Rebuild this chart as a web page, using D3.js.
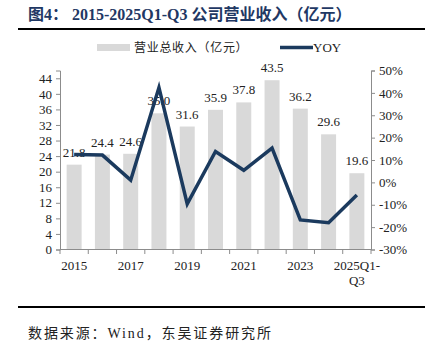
<!DOCTYPE html>
<html>
<head>
<meta charset="utf-8">
<script src="https://cdn.jsdelivr.net/npm/d3@7"></script>
<style>
  body { margin: 0; background: #fff; }
  text { font-family: "Liberation Serif", "Noto Sans CJK SC", serif; }
</style>
</head>
<body>
<div id="chart"></div>
<script>
// 数据
var years = ["2015", "2016", "2017", "2018", "2019", "2020", "2021", "2022", "2023", "2024", "2025Q1-Q3"];
var revenue = [21.8, 24.4, 24.6, 35.0, 31.6, 35.9, 37.8, 43.5, 36.2, 29.6, 19.6];
var yoy = [12.5, 12.2, 1.0, 42.4, -9.6, 13.8, 5.4, 15.3, -16.8, -18.0, -5.6];
var leftTicks = [0, 4, 8, 12, 16, 20, 24, 28, 32, 36, 40, 44];
var rightTicks = [-30, -20, -10, 0, 10, 20, 30, 40, 50];

var W = 425, H = 353;
var navy = "#1b3a5e", barColor = "#d9d9d9", axisColor = "#8c8c8c";

var svg = d3.select("#chart").append("svg")
    .attr("width", W)
    .attr("height", H);

svg.append("rect").attr("width", W).attr("height", H).attr("fill", "#fff");

//**********************标题**********************
svg.append("text")
    .attr("x", 28).attr("y", 20)
    .attr("font-size", 16).attr("font-weight", "bold")
    .attr("fill", "#1f3864")
    .text("图4： 2015-2025Q1-Q3 公司营业收入（亿元）");

svg.append("line")
    .attr("x1", 18).attr("x2", W).attr("y1", 29).attr("y2", 29)
    .attr("stroke", "#000").attr("stroke-width", 2);

//**********************比例尺**********************
var x = d3.scaleBand().domain(years).range([60, 371])
    .paddingInner(0.47).paddingOuter(0.235);
var step = x.step();
var yL = d3.scaleLinear().domain([0, 46]).range([249.5, 70.5]);
var yR = d3.scaleLinear().domain([-30, 50]).range([249.5, 70.5]);

//**********************柱子**********************
svg.append("g").selectAll("rect")
    .data(revenue)
    .enter()
    .append("rect")
    .attr("x", (d, i) => x(years[i]))
    .attr("y", d => yL(d))
    .attr("width", x.bandwidth())
    .attr("height", d => yL(0) - yL(d))
    .attr("fill", barColor);

// 数据标签
svg.append("g").selectAll("text")
    .data(revenue)
    .enter()
    .append("text")
    .attr("x", (d, i) => x(years[i]) + x.bandwidth() / 2)
    .attr("y", d => yL(d) - 8)
    .attr("text-anchor", "middle")
    .attr("font-size", 13)
    .attr("fill", "#222")
    .text(d => d.toFixed(1));

//**********************坐标轴**********************
var axisL = svg.append("g").attr("transform", "translate(60,0)")
    .call(d3.axisLeft(yL).tickValues(leftTicks).tickSize(4).tickPadding(4));
var axisR = svg.append("g").attr("transform", "translate(371,0)")
    .call(d3.axisRight(yR).tickValues(rightTicks).tickSize(4).tickPadding(4)
        .tickFormat(d => d + "%"));

[axisL, axisR].forEach(function (g) {
    g.select(".domain").attr("stroke", axisColor);
    g.selectAll(".tick line").attr("stroke", axisColor);
    g.selectAll(".tick text")
        .attr("font-family", "Liberation Serif, serif")
        .attr("font-size", 13).attr("fill", "#222");
});

// x轴
svg.append("line")
    .attr("x1", 60).attr("x2", 371).attr("y1", 249.5).attr("y2", 249.5)
    .attr("stroke", axisColor);

svg.append("g").selectAll("line")
    .data(d3.range(years.length + 1))
    .enter()
    .append("line")
    .attr("x1", i => 60 + i * step).attr("x2", i => 60 + i * step)
    .attr("y1", 249.5).attr("y2", 254)
    .attr("stroke", axisColor);

var xl = svg.append("g").selectAll("text")
    .data(years.filter((d, i) => i % 2 == 0))
    .enter()
    .append("text")
    .attr("x", d => x(d) + x.bandwidth() / 2)
    .attr("y", 270)
    .attr("text-anchor", "middle")
    .attr("font-size", 13)
    .attr("fill", "#222");

xl.each(function (d) {
    var t = d3.select(this);
    if (d == "2025Q1-Q3") {
        t.append("tspan").attr("x", x(d) + x.bandwidth() / 2).text("2025Q1-");
        t.append("tspan").attr("x", x(d) + x.bandwidth() / 2).attr("dy", 15).text("Q3");
    } else {
        t.text(d);
    }
});

//**********************YOY折线**********************
var line = d3.line()
    .x((d, i) => x(years[i]) + x.bandwidth() / 2)
    .y(d => yR(d));

svg.append("path")
    .datum(yoy)
    .attr("d", line)
    .attr("fill", "none")
    .attr("stroke", navy)
    .attr("stroke-width", 3.5)
    .attr("stroke-linejoin", "miter");

//**********************图例**********************
svg.append("rect")
    .attr("x", 97).attr("y", 44).attr("width", 33).attr("height", 7)
    .attr("fill", barColor);
svg.append("text")
    .attr("x", 134).attr("y", 52)
    .attr("font-size", 12).attr("fill", "#222")
    .attr("letter-spacing", 0.7)
    .text("营业总收入（亿元）");

svg.append("line")
    .attr("x1", 280).attr("x2", 313).attr("y1", 47.5).attr("y2", 47.5)
    .attr("stroke", navy).attr("stroke-width", 3.5);
svg.append("text")
    .attr("x", 313).attr("y", 52)
    .attr("font-size", 13).attr("fill", "#222")
    .text("YOY");

//**********************来源**********************
svg.append("line")
    .attr("x1", 18).attr("x2", W).attr("y1", 307).attr("y2", 307)
    .attr("stroke", "#000").attr("stroke-width", 2);

svg.append("text")
    .attr("x", 28).attr("y", 338)
    .attr("font-size", 14).attr("fill", "#222")
    .attr("letter-spacing", 1.9)
    .text("数据来源：Wind，东吴证券研究所");
</script>
</body>
</html>
